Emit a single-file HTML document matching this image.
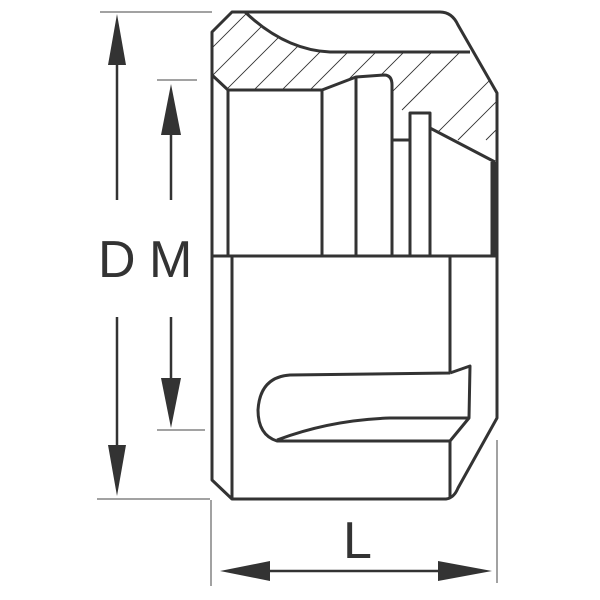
<!DOCTYPE html>
<html><head><style>html,body{margin:0;padding:0;background:#fff}svg{display:block}</style></head><body>
<svg width="600" height="600" viewBox="0 0 600 600" xmlns="http://www.w3.org/2000/svg">
<defs>
<clipPath id="h"><path d="M212,32 L232,12 L245,12 Q285,50 330,52 L470,52 L497,93 L497,162 L430,128 L430,113 L410,113 L410,140 L392,140 L392,85 Q392,75 384,75 L356,77 L322,90 L228,90 L212,75 Z"/></clipPath>
</defs>
<g stroke="#333" stroke-width="0.9" clip-path="url(#h)">
<path d="M150,110 L260,0 M178,110 L288,0 M206,110 L316,0 M234,110 L344,0 M262,110 L372,0 M290,110 L400,0 M318,110 L428,0 M346,110 L456,0 M374,110 L484,0 M402,110 L512,0 M430,140 L570,0 M458,140 L598,0 M486,140 L626,0 M514,140 L654,0 M542,140 L682,0"/>
</g>
<g fill="none" stroke="#333" stroke-width="3" stroke-linejoin="round">
<path d="M212,32 L232,12 L440,12 Q452,12 458,25 L497,93 L497,418 L458,488 Q454,498 446,499 L232,499 L212,480 Z"/>
<path d="M245,12 Q285,50 330,52 L470,52"/>
<path d="M212,75 L228,90 L322,90 L356,77 L384,75 Q392,75 392,85 L392,256"/>
<path d="M392,140 L410,140 M410,256 L410,113 L430,113 L430,256 M430,128 L495,162"/>
<path d="M228,90 L228,256 M322,90 L322,256 M356,77 L356,256"/>
<path d="M212,256 L497,256 M232,256 L232,499 M450,256 L450,373"/>
<path d="M450,373 L470,366 L469,418 L450,441 L277,441 Q258,435 258,410 Q260,377 290,375 L450,373"/>
<path d="M277,440 Q330,420 390,418 L469,418"/>
<path d="M450,441 L450,497"/>
</g>
<path d="M493,162 L493,256" stroke="#333" stroke-width="5"/>
<g stroke="#444" stroke-width="1">
<path d="M100,12 L212,12 M157,80 L197,80 M157,430 L205,430 M97,499 L210,499 M211,500 L211,586 M497,440 L497,583"/>
</g>
<g stroke="#333" stroke-width="2.5">
<path d="M117,60 L117,200 M117,317 L117,450 M171,130 L171,200 M171,317 L171,380 M265,571 L445,571"/>
</g>
<g fill="#333">
<path d="M117,14 L108,65 L126,65 Z M117,496 L108,445 L126,445 Z"/>
<path d="M171,84 L161,135 L181,135 Z M171,428 L161,378 L181,378 Z"/>
<path d="M220,571 L270,561 L270,581 Z M492,571 L438,561 L438,581 Z"/>
</g>
<g font-family="Liberation Sans, sans-serif" font-size="52" fill="#333">
<text x="98" y="277">D</text>
<text x="149" y="277">M</text>
<text x="343" y="558">L</text>
</g>
</svg>
</body></html>
